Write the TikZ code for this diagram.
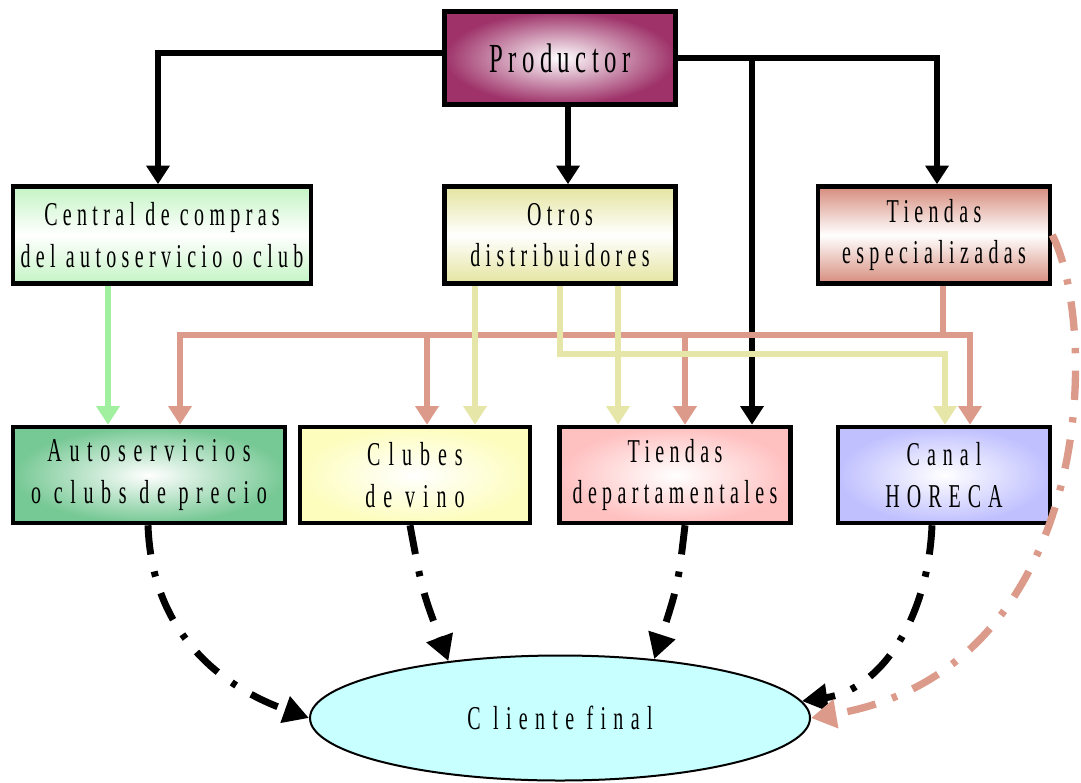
\documentclass[tikz,border=0pt]{standalone}
\usepackage{fontspec}
\usetikzlibrary{arrows.meta,calc,shapes.geometric}
\newfontfamily\df[FakeStretch=0.6,LetterSpace=16]{Liberation Serif}
\newdimen\px \px=0.75pt
\definecolor{prodc}{RGB}{158,50,105}
\definecolor{cenc}{RGB}{196,244,196}
\definecolor{otrc}{RGB}{228,228,160}
\definecolor{tesc}{RGB}{214,140,124}
\definecolor{autc}{RGB}{118,200,148}
\definecolor{cluc}{RGB}{253,253,190}
\definecolor{tdec}{RGB}{255,192,192}
\definecolor{horc}{RGB}{192,192,255}
\definecolor{clic}{RGB}{200,255,255}
\definecolor{grl}{RGB}{160,240,160}
\definecolor{sal}{RGB}{220,154,138}
\definecolor{yel}{RGB}{230,230,168}
\begin{document}
\begin{tikzpicture}[x=0.75pt,y=-0.75pt,
  box/.style={draw=black,line width=3.4pt,inner sep=0pt,align=center,
    font=\df\fontsize{25}{31}\selectfont},
  wide/.style={font=\df\fontsize{25}{31}\selectfont\addfontfeature{LetterSpace=#1}},
  arr/.style={line width=4pt,-{Triangle[width=17pt,length=14pt]}},
  dd/.style={line width=5.2pt,dash pattern=on 22pt off 13pt on 4pt off 13pt,
    -{Triangle[width=20pt,length=19pt]}},
  sdd/.style={line width=5.5pt,color=sal,dash pattern=on 22pt off 13pt on 4pt off 13pt,
    -{Triangle[width=21pt,length=19pt]}}]
\useasboundingbox (0,0) rectangle (1081,782);
% nodes
\node[box,minimum width=231\px,minimum height=93\px,inner color=white,outer color=prodc,
  font=\df\fontsize{31}{36}\selectfont\addfontfeature{LetterSpace=13}] (prod) at (560,58) {Productor};
\node[box,minimum width=298\px,minimum height=97\px,top color=cenc,bottom color=cenc,middle color=white] (central) at (162,235) {Central de compras\\del autoservicio o club};
\node[box,minimum width=231\px,minimum height=97\px,top color=otrc,bottom color=otrc,middle color=white] (otros) at (560,235) {Otros\\distribuidores};
\node[box,minimum width=232\px,minimum height=97\px,top color=tesc,bottom color=tesc,middle color=white] (tesp) at (934,235) {Tiendas\\especializadas};
\node[box,wide=23,minimum width=272\px,minimum height=96\px,inner color=white,outer color=autc] (auto) at (149,475) {Autoservicios\\o clubs de precio};
\node[box,wide=24,minimum width=230\px,minimum height=96\px,inner color=white,outer color=cluc] (clubes) at (415,475) {Clubes\\de vino};
\node[box,minimum width=231\px,minimum height=96\px,inner color=white,outer color=tdec] (tdep) at (675,475) {Tiendas\\departamentales};
\node[box,wide=21,minimum width=212\px,minimum height=96\px,inner color=white,outer color=horc] (horeca) at (944,475) {Canal\\HORECA};
\node[ellipse,draw=black,line width=1.5pt,fill=clic,minimum width=500\px,minimum height=125\px,inner sep=0pt,
  wide=22] (cliente) at (560,718) {C liente final};
% coordinates
\coordinate (xb) at (752,0);
\coordinate (sj) at (943,335);
\coordinate (yj) at (560,354);
% black from productor
\draw[arr] ([yshift=5\px]prod.west) -| ([xshift=-4\px]central.north);
\draw[arr] ([xshift=8\px]prod.south) -- ([xshift=8\px]otros.north);
\draw[arr] (prod.east) -| ([xshift=3\px]tesp.north);
\draw[arr] (prod.east -| xb) -- (xb |- tdep.north);
% green
\draw[arr,color=grl] ([xshift=-54\px]central.south) -- ([xshift=-41\px]auto.north);
% salmon bus
\draw[line width=4pt,color=sal] ([xshift=9\px]tesp.south) -- (sj);
\draw[arr,color=sal] (sj) -| ([xshift=31\px]auto.north);
\draw[arr,color=sal] (sj) -| ([xshift=12\px]clubes.north);
\draw[arr,color=sal] (sj) -| ([xshift=10\px]tdep.north);
\draw[arr,color=sal] (sj) -| ([xshift=26\px]horeca.north);
% yellow
\draw[arr,color=yel] ([xshift=-85\px]otros.south) -- ([xshift=60\px]clubes.north);
\draw[arr,color=yel] ([xshift=58\px]otros.south) -- ([xshift=-57\px]tdep.north);
\draw[arr,color=yel] (otros.south) -- (yj) -| ([xshift=1\px]horeca.north);
% dash-dot to cliente
\draw[dd] ([xshift=-1\px]auto.south) .. controls (152,640) and (230,690) .. (cliente.west);
\draw[dd] ([xshift=-5\px]clubes.south) .. controls (422,590) .. (cliente.153);
\draw[dd] ([xshift=10\px]tdep.south) .. controls (678,585) .. (cliente.32);
\draw[dd] ([xshift=-12\px]horeca.south) .. controls (928,620) and (880,690) .. (cliente.4);
\draw[sdd] (tesp.east) .. controls (1100,330) and (1095,670) .. (cliente.east);
\end{tikzpicture}
\end{document}
